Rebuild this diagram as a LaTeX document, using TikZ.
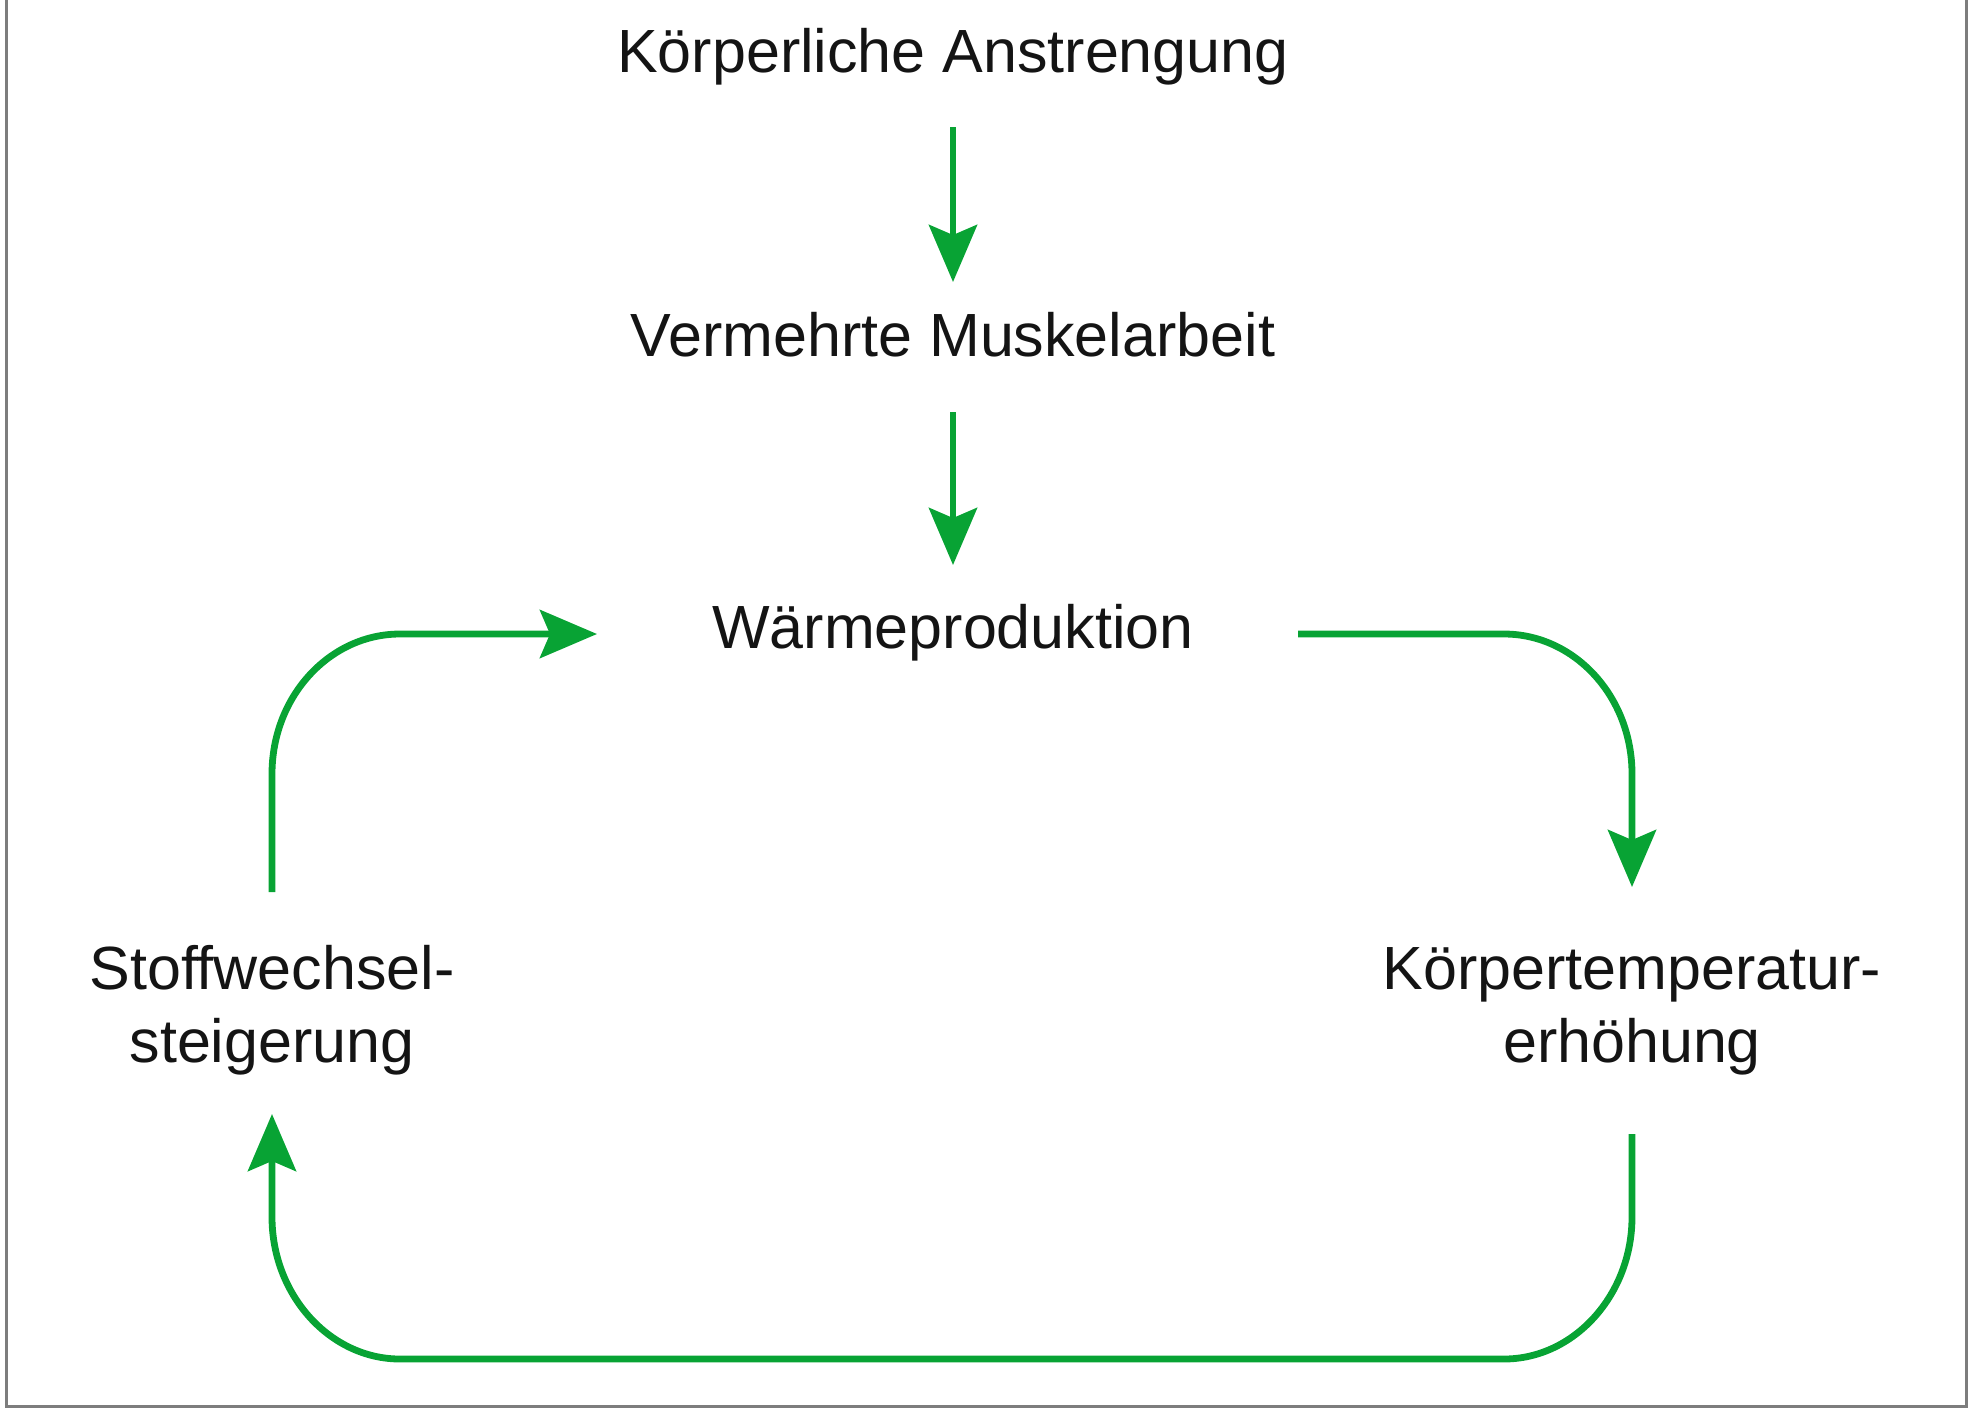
\documentclass[tikz,border=0pt]{standalone}
\usepackage{fontspec}
\setmainfont{Liberation Sans}
\usetikzlibrary{arrows.meta}
\definecolor{arrowgreen}{RGB}{8,163,52}
\definecolor{framegray}{RGB}{125,125,125}
\definecolor{labgray}{RGB}{20,20,20}
\begin{document}
\begin{tikzpicture}[x=0.5pt,y=-0.5pt,
  lab/.style={inner sep=0pt, anchor=base, align=center, text=labgray,
    font=\fontsize{30.5}{36.5}\selectfont},
  flow/.style={draw=arrowgreen, line width=3.4pt,
    -{Stealth[length=28.5pt, width=24pt, inset=5pt]}},
  frame/.style={draw=framegray, line width=1.5pt}]
\useasboundingbox (0,0) rectangle (1969,1409);
\draw[frame] (6.5,0) -- (6.5,1406.5) -- (1966.5,1406.5) -- (1966.5,0);

\node[lab] (t1) at (953,72) {Körperliche Anstrengung};
\node[lab] (t2) at (953,356) {Vermehrte Muskelarbeit};
\node[lab] (t3) at (953,648) {Wärmeproduktion};
\node[lab] (t4) at (272,1062) {Stoffwechsel-\\steigerung};
\node[lab] (t5) at (1632,1062) {Körpertemperatur-\\erhöhung};

\coordinate (a1s) at (953,127);
\coordinate (a1e) at (953,282);
\coordinate (a2s) at (953,412);
\coordinate (a2e) at (953,565);
\coordinate (ls) at (272,892);
\coordinate (le) at (597,634);
\coordinate (rs) at (1298,634);
\coordinate (re) at (1632,887);
\coordinate (bs) at (1632,1134);
\coordinate (be) at (272,1114);

\draw[flow] (a1s) -- (a1e);
\draw[flow] (a2s) -- (a2e);
\draw[flow] (ls) -- (272,774) .. controls (272,696) and (330,634) .. (400,634) -- (le);
\draw[flow] (rs) -- (1504,634) .. controls (1574,634) and (1632,696) .. (1632,774) -- (re);
\draw[flow] (bs) -- (1632,1217) .. controls (1632,1295) and (1574,1359) .. (1504,1359)
  -- (400,1359) .. controls (330,1359) and (272,1295) .. (272,1217) -- (be);
\end{tikzpicture}
\end{document}
